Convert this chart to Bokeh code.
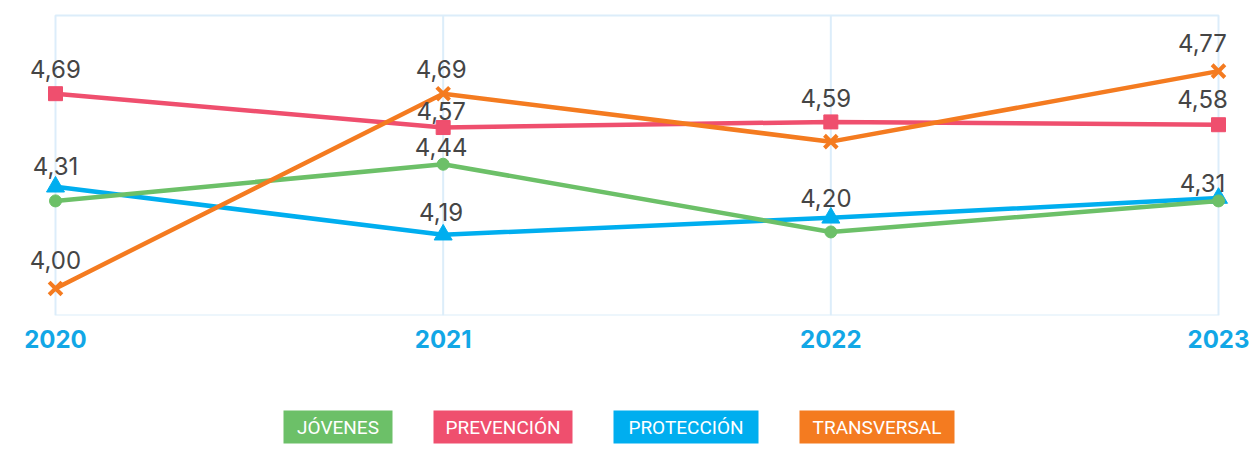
from bokeh.plotting import figure
from bokeh.models import ColumnDataSource, Range1d, FixedTicker
from bokeh.layouts import column
from bokeh.core.properties import value
from bokeh.embed import file_html
from bokeh.resources import INLINE

years = [2020, 2021, 2022, 2023]
jovenes = [4.31, 4.44, 4.20, 4.31]
prevencion = [4.69, 4.57, 4.59, 4.58]
proteccion = [4.36, 4.19, 4.25, 4.32]
transversal = [4.00, 4.69, 4.52, 4.77]
series_names = ["JÓVENES", "PREVENCIÓN", "PROTECCIÓN", "TRANSVERSAL"]

colors = {"JÓVENES": "#6cc068", "PREVENCIÓN": "#ef4f6e", "PROTECCIÓN": "#00aeef", "TRANSVERSAL": "#f47b20"}
data = {"JÓVENES": jovenes, "PREVENCIÓN": prevencion, "PROTECCIÓN": proteccion, "TRANSVERSAL": transversal}

# visible data labels: (series, year index), with pixel offsets (layout only)
label_points = [("PREVENCIÓN", 0), ("JÓVENES", 0), ("TRANSVERSAL", 0),
                ("TRANSVERSAL", 1), ("PREVENCIÓN", 1), ("JÓVENES", 1), ("PROTECCIÓN", 1),
                ("PREVENCIÓN", 2), ("JÓVENES", 2),
                ("TRANSVERSAL", 3), ("PREVENCIÓN", 3), ("JÓVENES", 3)]
label_dx = [0, 0, 0, -2, -2, -2, -2, -5, -5, -16, -16, -16]
label_dy = [-25, -35, -28, -25, -17, -17, -23, -24, -34, -28, -26, -18]

# value window of the chart box, and the visible extents around it
Y_MIN, Y_MAX = 3.904, 4.967
X_MIN, X_MAX = years[0], years[-1]
x_span = (X_MAX - X_MIN) / 1163.0     # units per pixel
y_span = (Y_MAX - Y_MIN) / 300.0

p = figure(width=1255, height=365, output_backend="svg", toolbar_location=None,
           x_range=Range1d(X_MIN - 55 * x_span, X_MAX + 37 * x_span),
           y_range=Range1d(Y_MIN, Y_MAX + 15 * y_span),
           min_border_left=0, min_border_right=0, min_border_top=0, min_border_bottom=50)
p.background_fill_color = "white"
p.border_fill_color = "white"
p.outline_line_color = None
p.yaxis.visible = False
p.grid.grid_line_color = None
ax = p.xaxis[0]
ax.ticker = FixedTicker(ticks=years)
ax.major_label_overrides = {y: str(y) for y in years}
ax.axis_line_color = None
ax.major_tick_line_color = None
ax.minor_tick_line_color = None
ax.major_label_text_font = "Inter"
ax.major_label_text_font_size = "24px"
ax.major_label_text_font_style = "bold"
ax.major_label_text_color = "#12a7e6"
ax.major_label_standoff = 8

grid_c = "#dcedfa"
# vertical grid lines at each year and chart box
p.segment(x0=years[1:-1], x1=years[1:-1], y0=Y_MIN, y1=Y_MAX, line_color=grid_c, line_width=2)
p.quad(left=X_MIN, right=X_MAX, bottom=Y_MIN, top=Y_MAX, fill_color=None, line_color=grid_c, line_width=2)

markers = {"JÓVENES": ("circle", 12), "PREVENCIÓN": ("square", 14),
           "PROTECCIÓN": ("triangle", 18), "TRANSVERSAL": ("x", 18)}

for name in ["PROTECCIÓN", "PREVENCIÓN", "JÓVENES", "TRANSVERSAL"]:
    src = ColumnDataSource(dict(x=years, y=data[name]))
    c = colors[name]
    p.line("x", "y", source=src, line_color=c, line_width=4.5)
    m, s = markers[name]
    if m == "x":
        p.scatter("x", "y", source=src, marker="x", size=s, line_color=c, line_width=4)
    else:
        p.scatter("x", "y", source=src, marker=m, size=s, fill_color=c, line_color=c)

lx = [years[i] for (_, i) in label_points]
ly = [data[n][i] for (n, i) in label_points]
lt = [f"{data[n][i]:.2f}".replace(".", ",") for (n, i) in label_points]
lsrc = ColumnDataSource(dict(x=lx, y=ly, text=lt, dx=label_dx, dy=label_dy))
p.text("x", "y", text="text", source=lsrc, x_offset="dx", y_offset="dy",
       text_font=value("Inter"), text_font_size="24px", text_color="#454545",
       text_align="center", text_baseline="middle")

# legend as a separate strip
lg = figure(width=1255, height=85, output_backend="svg", toolbar_location=None,
            x_range=Range1d(0, 1255), y_range=Range1d(85, 0),
            min_border=0)
lg.axis.visible = False
lg.grid.grid_line_color = None
lg.outline_line_color = None
lg.background_fill_color = "white"
lg.border_fill_color = "white"
box_left = [283, 433, 613, 799]
box_right = [392, 572, 758, 954]
lsrc2 = ColumnDataSource(dict(l=box_left, r=box_right,
                              cx=[(a + b) / 2 for a, b in zip(box_left, box_right)],
                              name=series_names, color=[colors[n] for n in series_names]))
lg.quad(left="l", right="r", top=45, bottom=78, source=lsrc2, fill_color="color", line_color=None)
lg.text("cx", 61.5, text="name", source=lsrc2, text_font=value("Roboto"), text_font_size="19px",
        text_color="white", text_align="center", text_baseline="middle")

layout = column(p, lg, spacing=0)
open("out.html", "w").write(file_html(layout, INLINE))
